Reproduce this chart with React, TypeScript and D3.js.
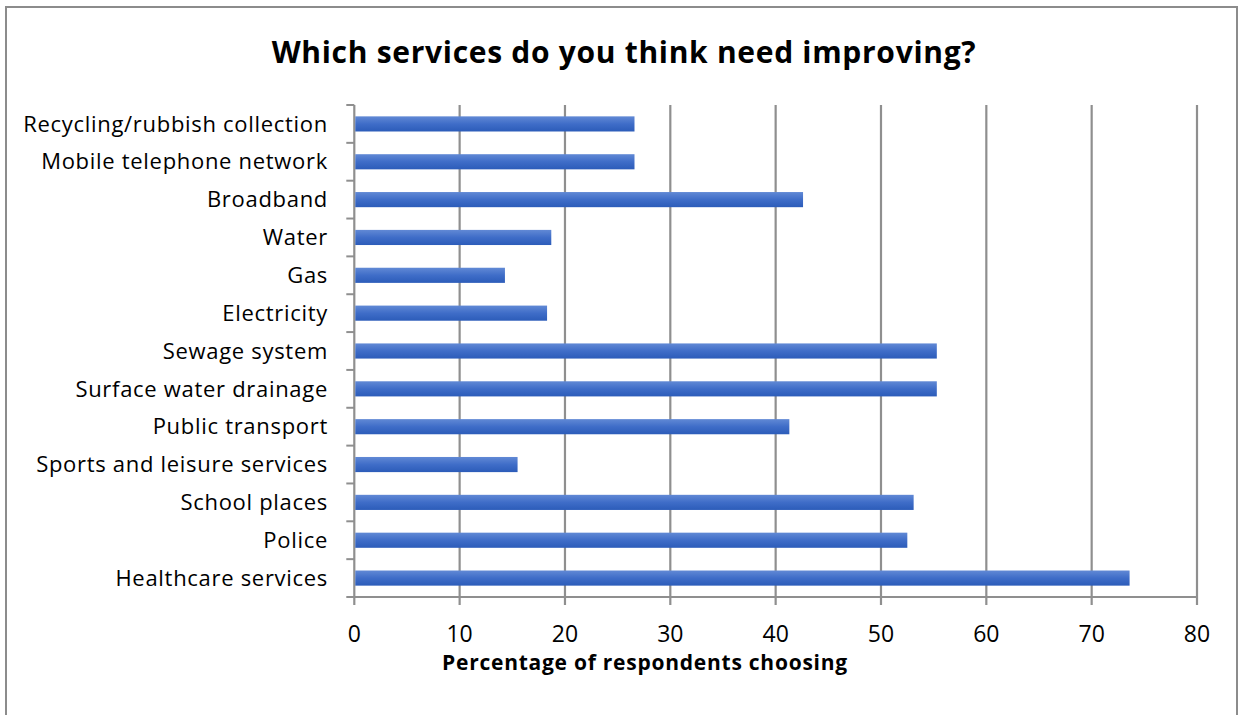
import React from "react";
import * as d3 from "d3";

const categories = [
  "Recycling/rubbish collection",
  "Mobile telephone network",
  "Broadband",
  "Water",
  "Gas",
  "Electricity",
  "Sewage system",
  "Surface water drainage",
  "Public transport",
  "Sports and leisure services",
  "School places",
  "Police",
  "Healthcare services",
];
const values = [26.6, 26.6, 42.6, 18.7, 14.3, 18.3, 55.3, 55.3, 41.3, 15.5, 53.1, 52.5, 73.6];
const xTicks = [0, 10, 20, 30, 40, 50, 60, 70, 80];
const title = "Which services do you think need improving?";
const xTitle = "Percentage of respondents choosing";

const W = 1240;
const H = 715;
const FONT = "'Open Sans', Lato, sans-serif";

export default function App() {
  const left = 354.3;
  const right = 1197;
  const top = 105;
  const bottom = 597;
  const x = d3.scaleLinear().domain([0, 80]).range([left, right]);
  const y = d3.scaleBand<string>().domain(categories).range([top, bottom]).paddingInner(0.6).paddingOuter(0.3);
  const yb = d3.scaleBand<string>().domain(categories).range([top, bottom]);
  const grid = "#8f8f8f";

  return (
    <svg width={W} height={H} style={{ position: "absolute", left: 0, top: 0, background: "#fff" }}>
      <defs>
        <linearGradient id="barGrad" x1="0" y1="0" x2="0" y2="1">
          <stop offset="0" stopColor="#6189d5" />
          <stop offset="0.5" stopColor="#3f6dc8" />
          <stop offset="1" stopColor="#2c5cb9" />
        </linearGradient>
      </defs>
      <rect x={0} y={0} width={W} height={H} fill="#fff" />
      <rect x={6} y={7} width={1231} height={H + 20} fill="none" stroke="#8c8c8c" strokeWidth={2} />
      <text x={624} y={63} textAnchor="middle" fontFamily={FONT} fontWeight="bold" fontSize={30} letterSpacing={0.7} fill="#000">
        {title}
      </text>
      {xTicks.slice(1).map((t) => (
        <line key={t} x1={x(t)} x2={x(t)} y1={top} y2={bottom + 8} stroke={grid} strokeWidth={2.2} />
      ))}
      <line x1={left} x2={left} y1={top} y2={bottom + 8} stroke={grid} strokeWidth={2.2} />
      {categories.map((c) => (
        <line key={"t" + c} x1={left - 8} x2={left} y1={yb(c)!} y2={yb(c)!} stroke={grid} strokeWidth={2} />
      ))}
      <line x1={left - 8} x2={right + 1} y1={bottom} y2={bottom} stroke={grid} strokeWidth={2.2} />
      {categories.map((c, i) => (
        <rect key={"b" + c} x={x(0) + 1} y={y(c)!} width={x(values[i]) - x(0) - 1} height={y.bandwidth()} fill="url(#barGrad)" />
      ))}
      {categories.map((c) => (
        <text key={"l" + c} x={328} y={yb(c)! + yb.bandwidth() / 2} dy="0.35em" textAnchor="end" fontFamily={FONT} fontSize={22} letterSpacing={0.7} fill="#000">
          {c}
        </text>
      ))}
      {xTicks.map((t) => (
        <text key={"x" + t} x={x(t)} y={642} textAnchor="middle" fontFamily={FONT} fontSize={23} fill="#000">
          {t}
        </text>
      ))}
      <text x={645} y={670} textAnchor="middle" fontFamily={FONT} fontWeight="bold" fontSize={21} letterSpacing={0.75} fill="#000">
        {xTitle}
      </text>
    </svg>
  );
}
